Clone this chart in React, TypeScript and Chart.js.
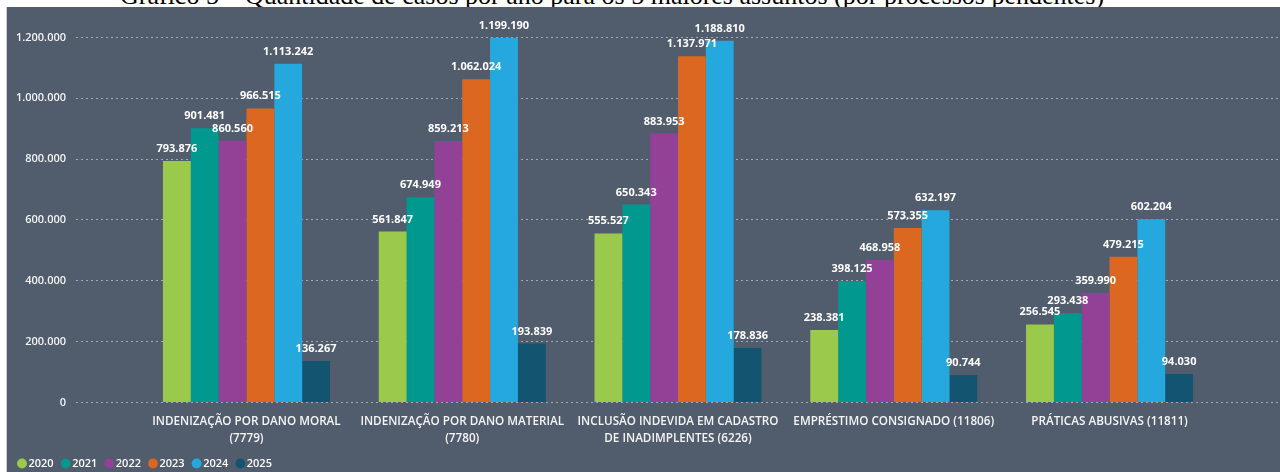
import React, { useEffect, useRef } from 'react';
import { Chart, registerables } from 'chart.js';

Chart.register(...registerables);

const categoryLabels: string[][] = [
  ['INDENIZAÇÃO POR DANO MORAL', '(7779)'],
  ['INDENIZAÇÃO POR DANO MATERIAL', '(7780)'],
  ['INCLUSÃO INDEVIDA EM CADASTRO', 'DE INADIMPLENTES (6226)'],
  ['EMPRÉSTIMO CONSIGNADO (11806)'],
  ['PRÁTICAS ABUSIVAS (11811)'],
];

const years = ['2020', '2021', '2022', '2023', '2024', '2025'];

const values2020 = [793876, 561847, 555527, 238381, 256545];
const values2021 = [901481, 674949, 650343, 398125, 293438];
const values2022 = [860560, 859213, 883953, 468958, 359990];
const values2023 = [966515, 1062024, 1137971, 573355, 479215];
const values2024 = [1113242, 1199190, 1188810, 632197, 602204];
const values2025 = [136267, 193839, 178836, 90744, 94030];

const seriesValues = [values2020, values2021, values2022, values2023, values2024, values2025];
const seriesColors = ['#9bc94c', '#01998f', '#934197', '#db6720', '#25a8de', '#135470'];

const yTickValues = [0, 200000, 400000, 600000, 800000, 1000000, 1200000];

const TITLE = 'Gráfico 5 – Quantidade de casos por ano para os 5 maiores assuntos (por processos pendentes)';
const FONT = '"Open Sans", "DejaVu Sans", sans-serif';

const fmt = (n: number) => String(Math.round(n)).replace(/\B(?=(\d{3})+(?!\d))/g, '.');

const valueLabels = {
  id: 'valueLabels',
  afterDatasetsDraw(chart: any) {
    const ctx = chart.ctx;
    ctx.save();
    ctx.font = `700 11px ${FONT}`;
    ctx.fillStyle = '#ffffff';
    ctx.textAlign = 'center';
    ctx.textBaseline = 'alphabetic';
    chart.data.datasets.forEach((ds: any, i: number) => {
      const meta = chart.getDatasetMeta(i);
      meta.data.forEach((el: any, j: number) => {
        const v = ds.data[j].y;
        ctx.fillText(fmt(v), el.x, el.y - 9);
      });
    });
    ctx.restore();
  },
};

export default function App() {
  const canvasRef = useRef<HTMLCanvasElement | null>(null);

  useEffect(() => {
    if (!canvasRef.current) return;
    const datasets = years.map((y, i) => ({
      label: y,
      data: seriesValues[i].map((v, j) => ({ x: j, y: v })),
      backgroundColor: seriesColors[i],
      borderWidth: 0,
      categoryPercentage: 0.774,
      barPercentage: 1,
    }));
    const chart = new Chart(canvasRef.current, {
      type: 'bar',
      data: { datasets },
      plugins: [valueLabels],
      options: {
        animation: false,
        responsive: true,
        maintainAspectRatio: false,
        layout: { padding: { left: 3, top: 3, right: 0, bottom: 0 } },
        plugins: {
          tooltip: { enabled: false },
          legend: {
            position: 'bottom',
            align: 'start',
            labels: {
              usePointStyle: true,
              pointStyle: 'circle',
              boxWidth: 2,
              boxHeight: 7,
              padding: 11,
              color: '#ffffff',
              font: { family: FONT, size: 11, weight: '600' },
            },
          },
        },
        scales: {
          x: {
            type: 'linear',
            min: -0.79,
            max: 4.79,
            offset: false,
            grid: { display: false, drawTicks: false },
            border: { display: false },
            afterBuildTicks: (s: any) => {
              s.ticks = categoryLabels.map((_, i) => ({ value: i }));
            },
            afterFit: (s: any) => {
              s.height = 44.5;
              s.paddingLeft = 0;
              s.paddingRight = 0;
            },
            ticks: {
              autoSkip: false,
              maxRotation: 0,
              minRotation: 0,
              padding: 10.5,
              color: '#f5f5f5',
              font: { family: FONT, size: 11.7, weight: '600', lineHeight: 17 / 11.7 },
              callback: (v: any) => categoryLabels[Number(v)] ?? '',
            },
          },
          y: {
            min: 0,
            max: 1290000,
            grid: { color: '#a3a9b2', lineWidth: 1, drawTicks: false },
            border: { display: false, dash: [2, 3] },
            afterBuildTicks: (s: any) => {
              s.ticks = yTickValues.map((v) => ({ value: v }));
            },
            afterFit: (s: any) => {
              s.width = 66;
              s.paddingTop = 0;
              s.paddingBottom = 0;
            },
            ticks: {
              padding: 10,
              color: '#f5f5f5',
              font: { family: FONT, size: 11, weight: '600' },
              callback: (v: any) => fmt(Number(v)),
            },
          },
        },
      } as any,
    });
    return () => chart.destroy();
  }, []);

  return (
    <div
      style={{
        position: 'fixed',
        left: 0,
        top: 0,
        width: 1280,
        height: 472,
        background: '#ffffff',
        overflow: 'hidden',
      }}
    >
      <div
        style={{
          position: 'absolute',
          left: 120,
          top: -17,
          whiteSpace: 'nowrap',
          fontFamily: '"Liberation Serif", "Times New Roman", serif',
          fontSize: 26,
          lineHeight: '26px',
          color: '#000000',
        }}
      >
        {TITLE}
      </div>
      <div
        style={{
          position: 'absolute',
          left: 6,
          top: 7,
          width: 1,
          height: 465,
          background: '#cfcfcf',
        }}
      />
      <div
        style={{
          position: 'absolute',
          left: 7,
          top: 7,
          width: 1273,
          height: 472,
          background: '#515c6d',
          overflow: 'hidden',
        }}
      >
        <div style={{ position: 'relative', width: 1273, height: 472 }}>
          <canvas ref={canvasRef} />
        </div>
      </div>
    </div>
  );
}
